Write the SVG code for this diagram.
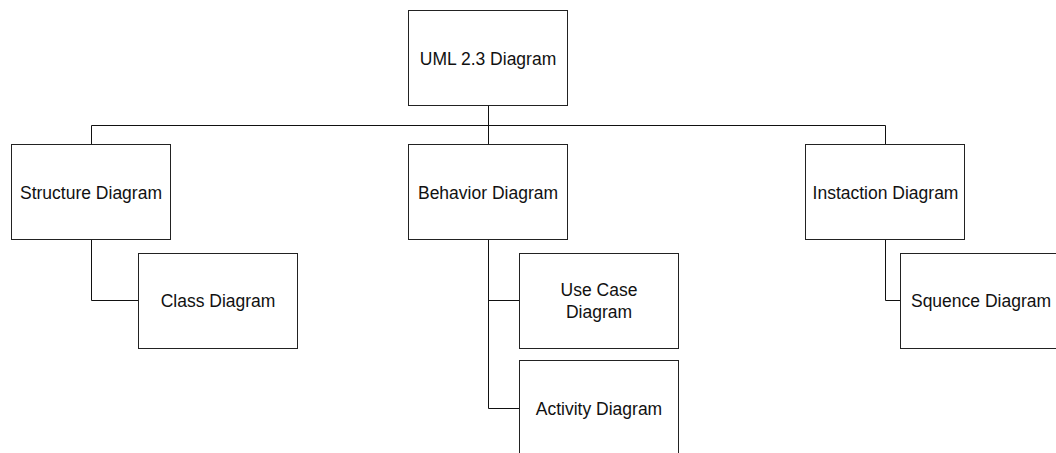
<svg xmlns="http://www.w3.org/2000/svg" width="1056" height="453" viewBox="0 0 1056 453">
  <style>
    .box { fill: #ffffff; stroke: #222222; stroke-width: 1; }
    .lbl { font-family: "Liberation Sans", Arial, sans-serif; font-size: 17.5px; fill: #111111; text-anchor: middle; }
    .wire { fill: none; stroke: #111111; stroke-width: 1; }
  </style>
  <rect width="1056" height="453" fill="#ffffff"/>

  <!-- hierarchy connectors -->
  <g id="connectors">
    <path class="wire" d="M488.5 105.5 V144.5"/>
    <path class="wire" d="M91.5 144.5 V125.5 H885.5 V144.5"/>
    <path class="wire" d="M91.5 239.5 V300.5 H138.5"/>
    <path class="wire" d="M488.5 239.5 V408.5 H519.5"/>
    <path class="wire" d="M488.5 300.5 H519.5"/>
    <path class="wire" d="M885.5 239.5 V300.5 H900.5"/>
  </g>

  <g id="uml">
    <rect class="box" x="408.5" y="10.5" width="159" height="95"/>
    <text class="lbl" x="488" y="64.5">UML 2.3 Diagram</text>
  </g>
  <g id="structure">
    <rect class="box" x="11.5" y="144.5" width="159" height="95"/>
    <text class="lbl" x="91" y="198.5">Structure Diagram</text>
  </g>
  <g id="behavior">
    <rect class="box" x="408.5" y="144.5" width="159" height="95"/>
    <text class="lbl" x="488" y="198.5">Behavior Diagram</text>
  </g>
  <g id="instaction">
    <rect class="box" x="805.5" y="144.5" width="159" height="95"/>
    <text class="lbl" x="885.5" y="198.5">Instaction Diagram</text>
  </g>
  <g id="class">
    <rect class="box" x="138.5" y="253.5" width="159" height="95"/>
    <text class="lbl" x="218" y="307">Class Diagram</text>
  </g>
  <g id="usecase">
    <rect class="box" x="519.5" y="253.5" width="159" height="95"/>
    <text class="lbl" x="599" y="296">Use Case</text>
    <text class="lbl" x="599" y="317.5">Diagram</text>
  </g>
  <g id="activity">
    <rect class="box" x="519.5" y="360.5" width="159" height="95"/>
    <text class="lbl" x="599" y="414.5">Activity Diagram</text>
  </g>
  <g id="sequence">
    <rect class="box" x="900.5" y="253.5" width="159" height="95"/>
    <text class="lbl" x="981" y="307">Squence Diagram</text>
  </g>
</svg>
